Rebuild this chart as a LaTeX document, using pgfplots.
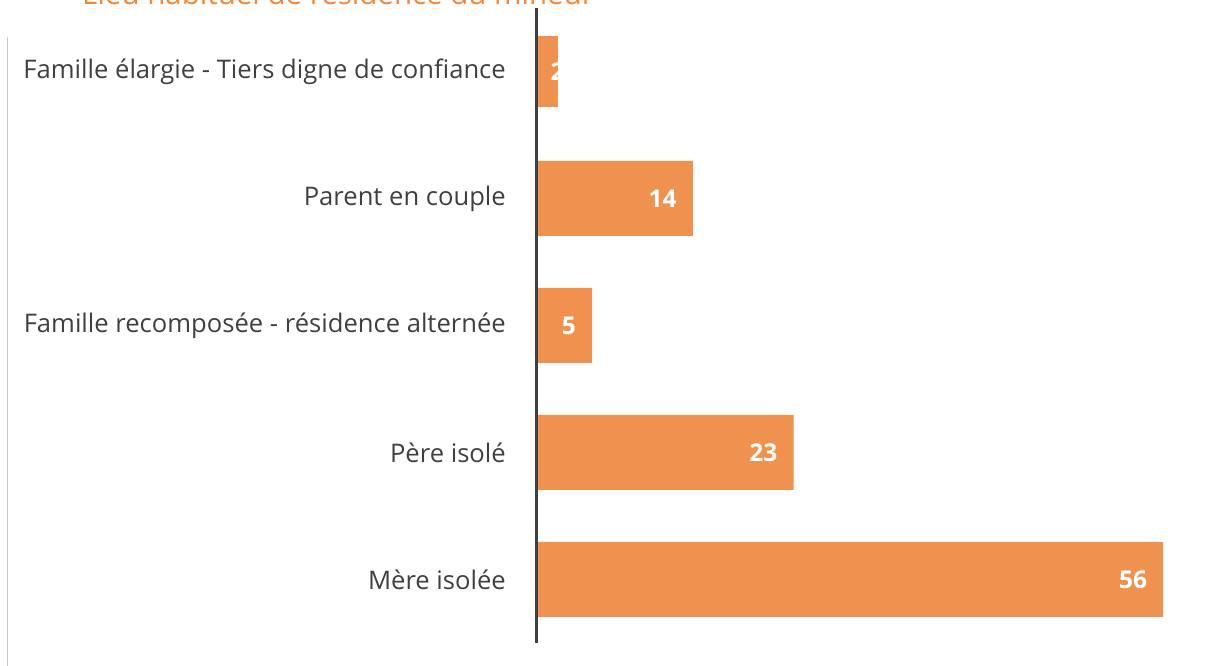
\documentclass[border=0pt]{standalone}
\usepackage{fontspec}
\setmainfont{Open Sans}
\usepackage{pgfplots}
\pgfplotsset{compat=1.18}
\definecolor{barorange}{HTML}{F0924F}
\definecolor{titleorange}{HTML}{F08A3E}
\definecolor{labelgray}{HTML}{404040}
\definecolor{axisgray}{HTML}{404040}
\definecolor{framegray}{HTML}{C8C8C8}
\begin{document}
\begin{tikzpicture}[x=1pt,y=1pt]
\useasboundingbox (0,0) rectangle (1217,666);
\clip (0,0) rectangle (1217,666);
\node[anchor=base west, inner sep=0pt, text=titleorange, font=\fontsize{29.5}{33}\selectfont] at (82,661) {Lieu habituel de résidence du mineur};
\draw[framegray, line width=1pt] (7.5,0) -- (7.5,629);
\begin{axis}[
  at={(536pt,23pt)}, anchor=south west,
  scale only axis, width=672pt, height=635pt,
  xbar, xmin=0, xmax=60, ymin=-0.5, ymax=4.5,
  axis x line=none, axis y line=left,
  y axis line style={draw=none},
  ytick={0,1,2,3,4},
  yticklabels={Mère isolée, Père isolé, Famille recomposée - résidence alternée, Parent en couple, Famille élargie - Tiers digne de confiance},
  major tick length=0pt,
  yticklabel style={font=\fontsize{25.6}{30}\selectfont, text=labelgray, inner sep=0pt, xshift=-30pt},
  bar width=75pt,
  bar shift=0pt,
  clip=false,
  nodes near coords,
  nodes near coords style={anchor=east, inner sep=0pt, xshift=-16pt, text=white, font=\fontsize{24.5}{28}\selectfont\bfseries, /pgf/number format/assume math mode=true},
]
\addplot[fill=barorange, draw=none] coordinates {(56,0) (23,1) (5,2) (14,3)};
\addplot[fill=barorange, draw=none, bar width=71pt,
  nodes near coords style={anchor=west, xshift=8pt}] coordinates {(2,4)};
\draw[axisgray, line width=3pt] (axis cs:0,-0.5) -- (axis cs:0,4.5);
\end{axis}
\end{tikzpicture}
\end{document}
